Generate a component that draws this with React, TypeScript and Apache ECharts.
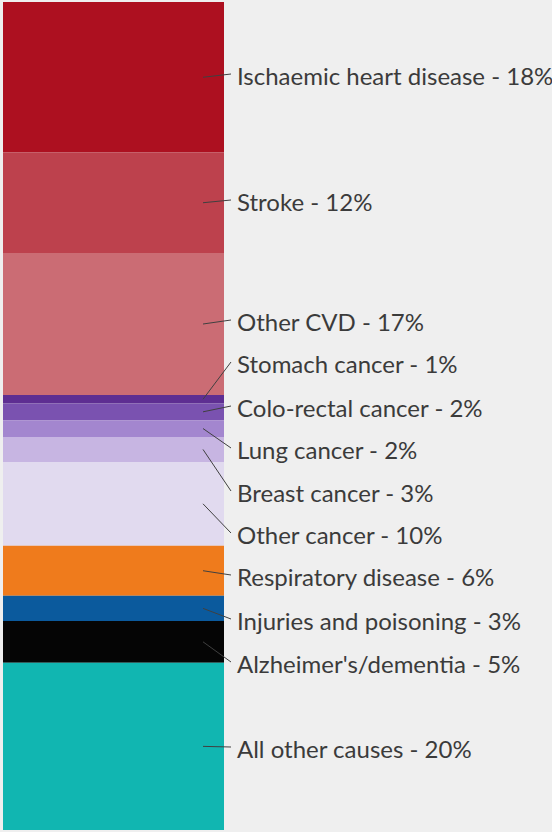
import React, { useEffect, useRef } from "react";
import * as echarts from "echarts";

const CATEGORIES = [
  "Ischaemic heart disease",
  "Stroke",
  "Other CVD",
  "Stomach cancer",
  "Colo-rectal cancer",
  "Lung cancer",
  "Breast cancer",
  "Other cancer",
  "Respiratory disease",
  "Injuries and poisoning",
  "Alzheimer's/dementia",
  "All other causes",
];
const VALUES = [18, 12, 17, 1, 2, 2, 3, 10, 6, 3, 5, 20];
const COLORS = [
  "#ad1020",
  "#bd414d",
  "#cb6c74",
  "#5e2e92",
  "#7a52b0",
  "#a386cf",
  "#c7b5e2",
  "#e1daef",
  "#ef7b1c",
  "#0b5a9d",
  "#050505",
  "#11b6b1",
];
// label vertical positions (px) — layout only
const LABEL_Y = [75, 201, 321, 363, 407, 449, 492, 534, 576, 620, 663, 748];

export default function App() {
  const ref = useRef<HTMLDivElement>(null);
  useEffect(() => {
    if (!ref.current) return;
    const chart = echarts.init(ref.current, undefined, { renderer: "svg" });
    const total = VALUES.reduce((a, b) => a + b, 0);
    let cum = 0;
    const mids = VALUES.map((v) => {
      const m = cum + v / 2;
      cum += v;
      return m;
    });
    const barSeries = CATEGORIES.map((name, i) => ({
      name,
      type: "bar",
      stack: "total",
      barWidth: "100%",
      data: [VALUES[i]],
      itemStyle: { color: COLORS[i] },
      label: { show: false },
    }));
    chart.setOption({
      animation: false,
      backgroundColor: "#efefef",
      grid: { left: 3, top: 2, width: 221, height: 828 },
      xAxis: { type: "category", data: ["Deaths"], show: false },
      yAxis: { type: "value", min: 0, max: total, inverse: true, show: false },
      series: [
        ...barSeries,
        {
          type: "custom",
          data: mids.map((m) => [0, m]),
          encode: { x: 0, y: 1 },
          z: 5,
          renderItem: (params: any, api: any) => {
            const i = params.dataIndex;
            const pt = api.coord([0, api.value(1)]);
            const bw = api.size([1, 0])[0];
            const right = pt[0] + bw / 2;
            const ly = LABEL_Y[i];
            return {
              type: "group",
              children: [
                {
                  type: "line",
                  shape: { x1: right - 21, y1: pt[1], x2: right + 7, y2: ly - 1 },
                  style: { stroke: "#404040", lineWidth: 1 },
                },
                {
                  type: "text",
                  style: {
                    x: right + 13,
                    y: ly,
                    text: `${CATEGORIES[i]} - ${VALUES[i]}%`,
                    fill: "#3b3b3b",
                    fontSize: 24,
                    fontFamily: "Lato",
                    align: "left",
                    verticalAlign: "middle",
                  },
                },
              ],
            };
          },
        },
      ],
    });
    return () => chart.dispose();
  }, []);
  return (
    <div style={{ position: "fixed", left: 0, top: 0, width: 552, height: 832 }}>
      <div ref={ref} style={{ width: 552, height: 832 }} />
    </div>
  );
}
